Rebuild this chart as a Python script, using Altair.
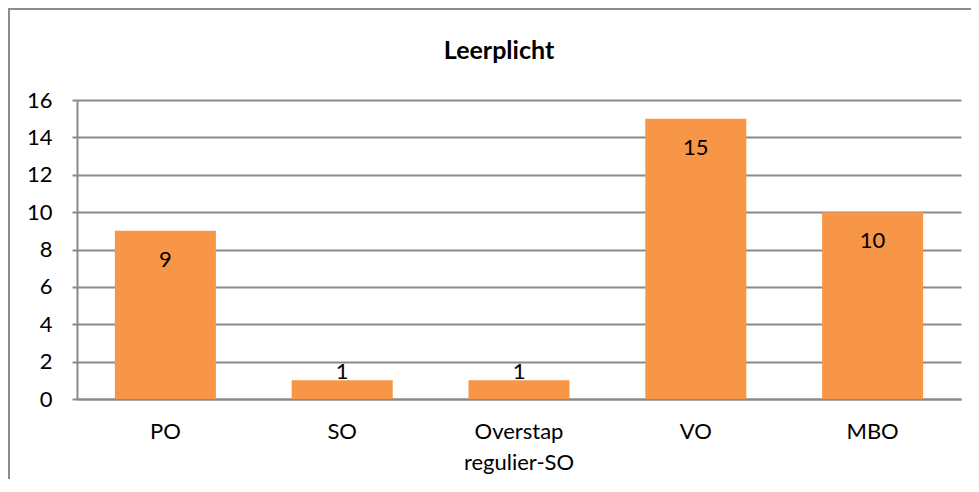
import altair as alt
import pandas as pd

categories = ["PO", "SO", "Overstap regulier-SO", "VO", "MBO"]
values = [9, 1, 1, 15, 10]
y_ticks = [0, 2, 4, 6, 8, 10, 12, 14, 16]
title_text = "Leerplicht"

df = pd.DataFrame({"cat": categories, "v": values})

FONT = "Lato"
GRID = "#8a8a8a"

x_enc = alt.X("cat:N", sort=categories,
              scale=alt.Scale(paddingInner=0.4286, paddingOuter=0.2143),
              axis=alt.Axis(title=None, labelAngle=0, labelFontSize=22, labelFont=FONT,
                            labelColor="#000000", labelPadding=22, labelLineHeight=31,
                            labelExpr="split(datum.label, ' ')", ticks=False,
                            domainColor=GRID, domainWidth=2, labelBaseline="top"))
y_enc = alt.Y("v:Q", scale=alt.Scale(domain=[0, 16], nice=False),
              axis=alt.Axis(title=None, values=y_ticks, tickCount=20, labelFontSize=22,
                            labelFont=FONT, labelColor="#000000", labelPadding=20, tickSize=5,
                            labelOverlap=False, labelFlush=False, grid=True,
                            tickColor=GRID, tickWidth=2, domainColor=GRID, domainWidth=2,
                            gridColor=GRID, gridWidth=2))

base = alt.Chart(df)
one = base.transform_filter("datum.cat == 'PO'")

border_left = one.mark_rule(color="#8c8c8c", strokeWidth=2).encode(
    x=alt.value(-68), y=alt.value(-92), y2=alt.value(380))
border_top = one.mark_rule(color="#8c8c8c", strokeWidth=2).encode(
    x=alt.value(-69), x2=alt.value(894), y=alt.value(-91))

title = one.mark_text(
    font=FONT, fontSize=25, fontWeight="bold", color="#000000",
    baseline="alphabetic", align="center"
).encode(x=alt.value(422), y=alt.value(-41), text=alt.value(title_text))

bars = base.mark_bar(color="#F79646").encode(x=x_enc, y=y_enc)

labels_in = base.transform_filter("datum.v >= 3").mark_text(
    font=FONT, fontSize=22, color="#000000", baseline="middle", dy=29
).encode(x=x_enc, y=y_enc, text="v:Q")

labels_out = base.transform_filter("datum.v < 3").mark_text(
    font=FONT, fontSize=22, color="#000000", baseline="alphabetic", dy=-1
).encode(x=x_enc, y=y_enc, text="v:Q")

chart = alt.layer(border_left, border_top, bars, labels_in, labels_out, title).properties(
    width=884, height=299,
    autosize=alt.AutoSizeParams(type="none"),
    padding={"left": 69, "top": 92, "right": 10, "bottom": 80},
).configure_view(stroke=None)

chart.save("out.html", embed_options={"renderer": "svg", "actions": False})
